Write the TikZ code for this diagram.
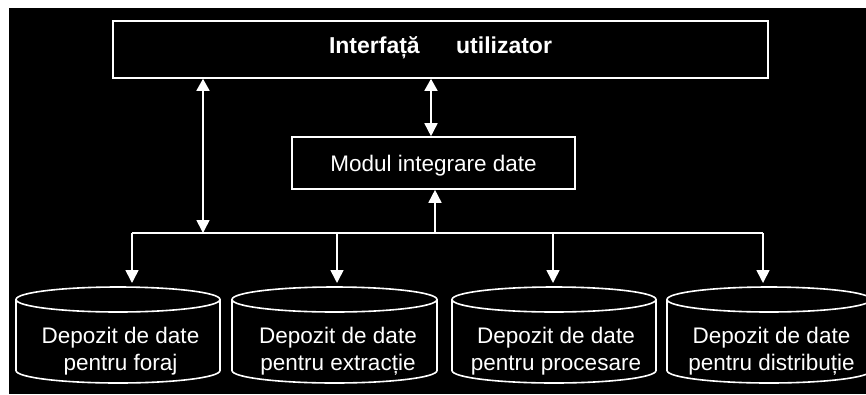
\documentclass[tikz,border=0pt]{standalone}
\usepackage{fontspec}
\setmainfont{Liberation Sans}
\usetikzlibrary{arrows.meta}
\newcommand\cylfont{\fontsize{22.5pt}{27pt}\selectfont}
\newcommand\modfont{\fontsize{22.5pt}{27pt}\selectfont}
\newcommand\uifont{\fontsize{23pt}{27pt}\selectfont\bfseries}
\newcommand\drawcyl[2]{%
  \draw[line] (#1,299.5) ellipse [x radius=#2pt, y radius=12.5pt];
  \draw[line] ({#1-#2},299.5) -- ({#1-#2},370.5)
    arc[start angle=180, end angle=360, x radius=#2pt, y radius=12.5pt]
    -- ({#1+#2},299.5);
}
\begin{document}
\begin{tikzpicture}[x=1pt,y=-1pt,
  line/.style={draw=white, line width=1.6pt},
  box/.style={line, rectangle, text=white, inner sep=0pt},
  arr/.style={line, -{Triangle[width=13pt,length=13pt]}},
  darr/.style={line, {Triangle[width=13pt,length=12pt]}-{Triangle[width=13pt,length=13pt]}},
  cyltext/.style={text=white, align=center, font=\cylfont, inner sep=0pt}
]
\useasboundingbox (0,0) rectangle (866,394);
\clip (0,0) rectangle (866,394);
\fill[white] (0,0) rectangle (866,394);
\fill[black] (9,8) rectangle (866,394);

% boxes
\node[box, minimum width=655pt, minimum height=57pt, text height=17pt, text depth=10pt, font=\uifont]
  (ui) at (440.5,49.5) {Interfață\hspace{30pt} utilizator};
\node[box, minimum width=283pt, minimum height=52pt, text height=16pt, text depth=0pt, font=\modfont]
  (mod) at (433.5,163) {Modul integrare date};

% cylinders
\drawcyl{118}{102}
\drawcyl{334.5}{102.5}
\drawcyl{554}{102}
\drawcyl{769}{102}
\node[cyltext] (c1) at (120.5,351) {Depozit de date\\pentru foraj};
\node[cyltext] (c2) at (338,351) {Depozit de date\\pentru extracție};
\node[cyltext] (c3) at (556,351) {Depozit de date\\pentru procesare};
\node[cyltext] (c4) at (771.5,351) {Depozit de date\\pentru distribuție};
\coordinate (t1) at (118,287);
\coordinate (t2) at (334.5,287);
\coordinate (t3) at (554,287);
\coordinate (t4) at (769,287);

% connector points
\coordinate (bl) at (203,233);
\coordinate (mc) at (431,100);
\coordinate (j) at (435,233);
\coordinate (d1) at (132,233);
\coordinate (d2) at (337,233);
\coordinate (d3) at (553,233);
\coordinate (d4) at (763,233);

\draw[darr] (ui.south -| bl) -- (bl);
\draw[darr] (ui.south -| mc) -- (mod.north -| mc);
\draw[arr] (j) -- (mod.south -| j);
\draw[line] (d1) -- (d4);
\draw[arr, shorten >=4pt] (d1) -- (d1 |- t1);
\draw[arr, shorten >=4pt] (d2) -- (d2 |- t2);
\draw[arr, shorten >=4pt] (d3) -- (d3 |- t3);
\draw[arr, shorten >=4pt] (d4) -- (d4 |- t4);
\end{tikzpicture}
\end{document}
